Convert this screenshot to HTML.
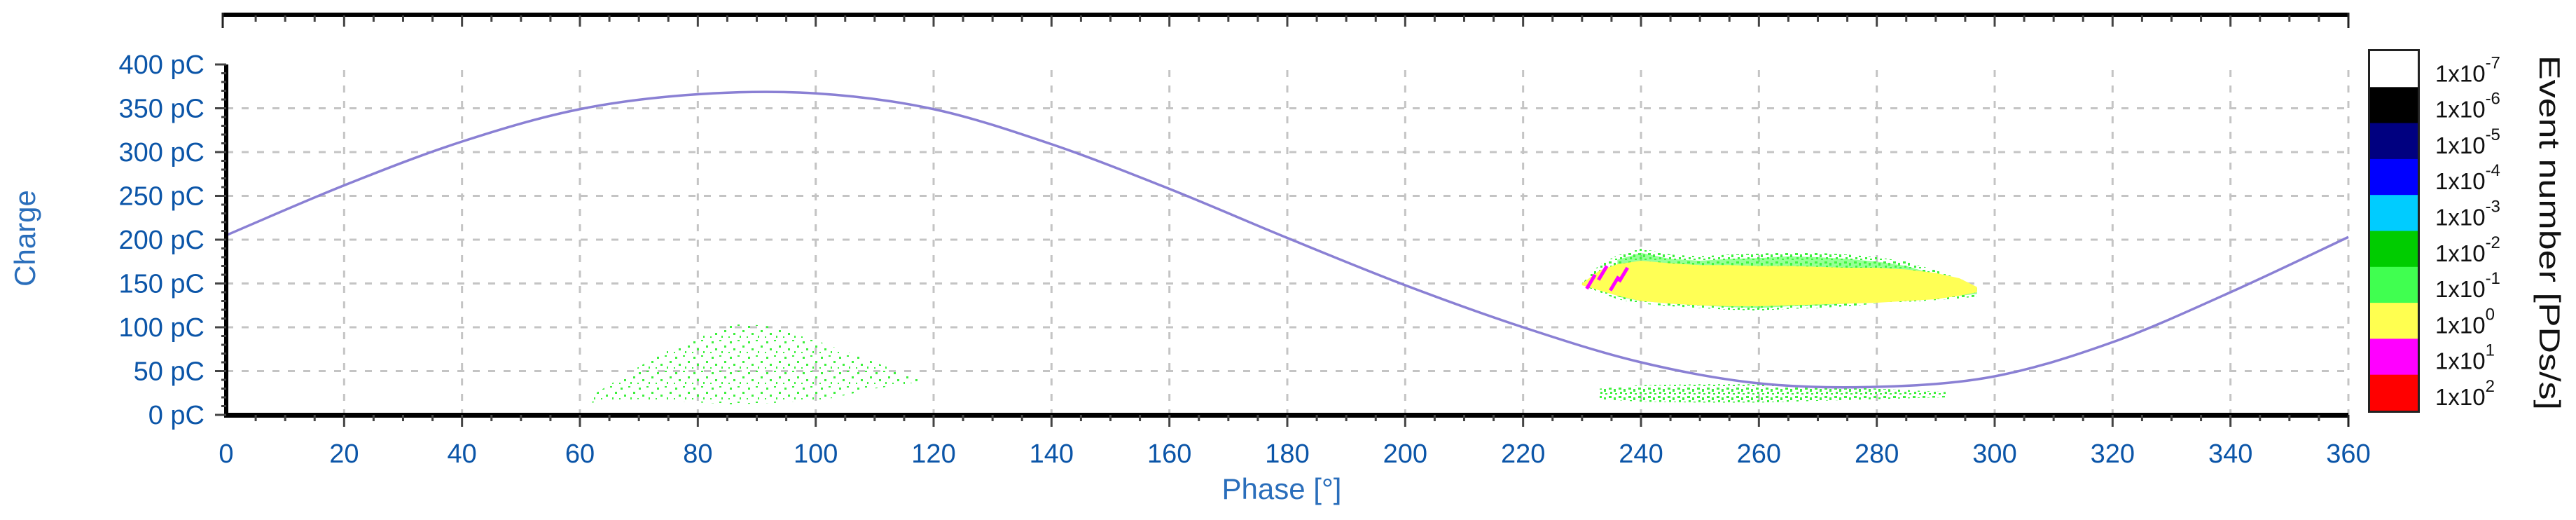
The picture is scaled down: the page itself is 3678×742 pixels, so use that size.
<!DOCTYPE html>
<html><head><meta charset="utf-8"><style>
html,body{margin:0;padding:0;background:#fff;}
svg{display:block;}
text{font-family:"Liberation Sans",sans-serif;}
</style></head><body>
<svg id="chart" width="3678" height="742" viewBox="0 0 3678 742" xmlns="http://www.w3.org/2000/svg">
<defs>
<pattern id="sparse" width="26" height="22" patternUnits="userSpaceOnUse">
<rect x="2" y="3" width="3" height="3" fill="#3cf03c"/><rect x="13" y="1" width="3" height="2" fill="#3cf03c"/>
<rect x="20" y="9" width="3" height="3" fill="#3cf03c"/><rect x="7" y="13" width="3" height="3" fill="#3cf03c"/>
<rect x="16" y="17" width="2" height="3" fill="#3cf03c"/><rect x="0" y="18" width="2" height="2" fill="#3cf03c"/>
</pattern>
<pattern id="dense" width="14" height="12" patternUnits="userSpaceOnUse">
<rect x="1" y="1" width="4" height="3" fill="#3cf03c"/><rect x="8" y="3" width="3" height="4" fill="#3cf03c"/>
<rect x="3" y="7" width="3" height="3" fill="#3cf03c"/><rect x="10" y="9" width="3" height="2" fill="#3cf03c"/>
</pattern>
</defs>
<g id="grid"></g>
<g id="marks"></g>
<g id="axes"></g>
<g id="cbar"></g>
<text x="0" y="0" transform="translate(50,340) rotate(-90)" text-anchor="middle" font-size="42" fill="#2a6ebb">Charge</text>
<text x="1830" y="712" text-anchor="middle" font-size="42" fill="#2a6ebb">Phase [°]</text>
<text x="0" y="0" transform="translate(3626,332) rotate(90)" text-anchor="middle" font-size="42" fill="#111" textLength="506" lengthAdjust="spacingAndGlyphs">Event number [PDs/s]</text>
</svg>
<script>
// ---- data ----
const xTicks = [0,20,40,60,80,100,120,140,160,180,200,220,240,260,280,300,320,340,360];
const yTicks = [0,50,100,150,200,250,300,350,400];
const sinePhase = [0,20,40,60,80,100,120,140,160,180,200,220,240,260,280,300,320,340,360];
const sineCharge = [205,262,312,349,366,367,349,309,258,202,148,100,60,36,32,44,83,140,203];
const clusterPhase = [230,233,236,240,245,250,255,260,265,270,275,280,285,290,294,297];
const greenTop = [150,172,182,190,183,181,183,184,186,185,183,180,175,165,156,146];
const greenBottom = [148,140,132,127,124,122,120,119,121,122,124,127,129,131,133,135];
const yellowTop = [150,165,172,176,173,171,171,170,170,169,168,168,166,162,156,146];
const yellowBottom = [148,142,136,130,127,125,124,124,125,126,127,128,130,132,136,140];
const magentaPhase = [231.5,233.5,235.5,237];
const magentaCharge = [152,162,150,160];
const lowBandPhase = [233,240,250,260,270,280,292];
const lowBandTop = [30,34,35,35,33,30,26];
const lowBandBottom = [18,15,14,14,16,18,20];
const leftPhase = [62,70,78,86,94,102,110,118];
const leftTop = [22,55,85,105,100,80,60,40];
const leftBottom = [14,18,15,12,14,18,30,38];
const cbLabels = ["-7","-6","-5","-4","-3","-2","-1","0","1","2"];
const cbColors = ["#ffffff","#000000","#000080","#0000ff","#00ccff","#00cc00","#40ff50","#ffff50","#ff00ff","#ff0000"];

// ---- scales ----
const X0=323, X1=3353, Y0=592, Y1=92;
const xs = p => X0 + p*(X1-X0)/360;
const ys = q => Y0 - q*(Y0-Y1)/400;
const NS="http://www.w3.org/2000/svg";
function mk(tag, parent, attrs){const e=document.createElementNS(NS,tag);for(const k in attrs)e.setAttribute(k,attrs[k]);parent.appendChild(e);return e;}
const grid=document.getElementById('grid'), marks=document.getElementById('marks'), axes=document.getElementById('axes'), cbar=document.getElementById('cbar');

// grid
xTicks.forEach(p=>{ if(p===0) return;
  const l=mk('line',grid,{x1:xs(p),x2:xs(p),y1:Y1+8,y2:Y0,stroke:'#c4c4c4','stroke-width':3,'stroke-dasharray':'10 12'});
  
  
});
yTicks.forEach(q=>{ if(q===0||q===400) return;
  const l=mk('line',grid,{x1:X0,x2:X1,y1:ys(q),y2:ys(q),stroke:'#c4c4c4','stroke-width':3,'stroke-dasharray':'10 12'});
  
  
});

function envPath(ph, top, bot){
  let d='M'+ph.map((p,i)=>xs(p)+','+ys(top[i])).join(' L');
  for(let i=ph.length-1;i>=0;i--) d+=' L'+xs(ph[i])+','+ys(bot[i]);
  return d+'Z';
}
// sparse regions
let e=mk('path',marks,{d:envPath(leftPhase,leftTop,leftBottom),fill:'url(#sparse)'});


e=mk('path',marks,{d:envPath(lowBandPhase,lowBandTop,lowBandBottom),fill:'url(#dense)'});


// main cluster
e=mk('path',marks,{d:envPath(clusterPhase,greenTop,greenBottom),fill:'url(#dense)'});


e=mk('path',marks,{d:envPath(clusterPhase.slice(2),greenTop.slice(2).map(v=>v-5),greenBottom.slice(2).map(v=>v+3)),fill:'#40ff40',opacity:0.55});


e=mk('path',marks,{d:envPath(clusterPhase,yellowTop,yellowBottom),fill:'#ffff55'});


magentaPhase.forEach((p,i)=>{
  const m=mk('line',marks,{x1:xs(p)-6,y1:ys(magentaCharge[i])+10,x2:xs(p)+6,y2:ys(magentaCharge[i])-10,stroke:'#ff00ff','stroke-width':5});
  
  
});

// sine reference
const pts=sinePhase.map((p,i)=>[xs(p),ys(sineCharge[i])]);
let d='M'+pts[0][0]+','+pts[0][1];
for(let i=0;i<pts.length-1;i++){
  const p0=pts[Math.max(0,i-1)],p1=pts[i],p2=pts[i+1],p3=pts[Math.min(pts.length-1,i+2)];
  d+=' C'+(p1[0]+(p2[0]-p0[0])/6)+','+(p1[1]+(p2[1]-p0[1])/6)+' '+(p2[0]-(p3[0]-p1[0])/6)+','+(p2[1]-(p3[1]-p1[1])/6)+' '+p2[0]+','+p2[1];
}
e=mk('path',marks,{d:d,fill:'none',stroke:'#8a80d4','stroke-width':3.5});



// axes
mk('rect',axes,{x:317,y:18,width:X1-317,height:6,fill:'#000'});
mk('line',axes,{x1:318,x2:318,y1:18,y2:40,stroke:'#222','stroke-width':3});
mk('line',axes,{x1:X1,x2:X1,y1:18,y2:40,stroke:'#222','stroke-width':3});
for(let p=5;p<360;p+=5){
  mk('line',axes,{x1:xs(p),x2:xs(p),y1:22,y2:(p%20===0?38:31),stroke:'#444','stroke-width':3});
}
mk('rect',axes,{x:X0-3,y:Y1,width:6,height:Y0-Y1+2,fill:'#000'});
mk('rect',axes,{x:X0-3,y:Y0-3,width:X1-X0+3,height:7,fill:'#000'});
mk('line',axes,{x1:X1,x2:X1,y1:Y0,y2:609,stroke:'#222','stroke-width':3});
for(let p=5;p<360;p+=5){
  mk('line',axes,{x1:xs(p),x2:xs(p),y1:Y0,y2:(p%20===0?609:601),stroke:'#444','stroke-width':3});
}
for(let q=10;q<400;q+=10){
  mk('line',axes,{x1:(q%50===0?307:X0-7),x2:X0,y1:ys(q),y2:ys(q),stroke:'#444','stroke-width':3});
}
mk('line',axes,{x1:307,x2:X0,y1:Y1,y2:Y1,stroke:'#444','stroke-width':3});
mk('line',axes,{x1:307,x2:X0,y1:Y0,y2:Y0,stroke:'#444','stroke-width':3});
xTicks.forEach(p=>{
  const t=mk('text',axes,{x:xs(p),y:660,'text-anchor':'middle','font-size':38,fill:'#0b55a8'});
  t.textContent=p;
  
  
});
yTicks.forEach(q=>{
  const t=mk('text',axes,{x:292,y:ys(q)+13,'text-anchor':'end','font-size':38,fill:'#0b55a8'});
  t.textContent=q+' pC';
  
  
});

// colorbar
const cbTop=73, cbBot=586, cbH=(cbBot-cbTop)/cbColors.length;
cbColors.forEach((c,i)=>{
  const r=mk('rect',cbar,{x:3384,y:cbTop+i*cbH,width:68,height:cbH+0.5,fill:c});
  
  
  const t=mk('text',cbar,{x:3477,y:cbTop+(i+1)*cbH-8,'font-size':33,fill:'#111'});
  
  
  t.textContent='1x10';
  const s=mk('tspan',t,{dy:-19,'font-size':24});
  s.textContent=cbLabels[i];
});
mk('rect',cbar,{x:3382.5,y:cbTop-1.5,width:71,height:cbBot-cbTop+3,fill:'none',stroke:'#222','stroke-width':3});
</script>
</body></html>
